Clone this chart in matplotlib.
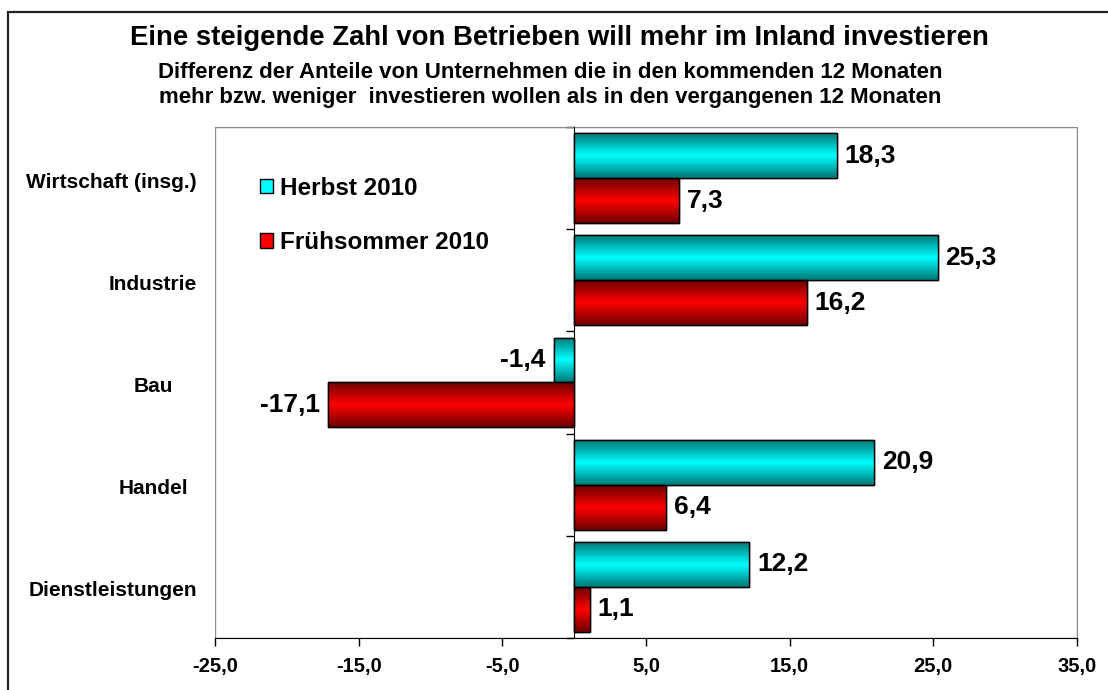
import numpy as np
import matplotlib
matplotlib.use("Agg")
import matplotlib.pyplot as plt
from matplotlib.colors import LinearSegmentedColormap
from matplotlib.patches import Rectangle

plt.rcParams['font.family'] = ['Liberation Sans', 'DejaVu Sans']

categories = ["Wirtschaft (insg.)", "Industrie", "Bau", "Handel", "Dienstleistungen"]
herbst = [18.3, 25.3, -1.4, 20.9, 12.2]
fruehsommer = [7.3, 16.2, -17.1, 6.4, 1.1]
series_names = ["Herbst 2010", "Frühsommer 2010"]
xticks = [-25, -15, -5, 5, 15, 25, 35]

fig = plt.figure(figsize=(11.08, 6.9), dpi=100)
ax = fig.add_axes([215 / 1108, 1 - 638 / 690, 862 / 1108, 511 / 690])

y = np.arange(len(categories))
h = 0.44
series = [
    (herbst, -h / 2, "#00FFFF", "#007878"),
    (fruehsommer, h / 2, "#FF0000", "#6E0000"),
]

containers = []
for (vals, off, bright, dark), name in zip(series, series_names):
    bars = ax.barh(y + off, vals, height=h, color=bright, edgecolor="black",
                   linewidth=1.0, label=name, zorder=3)
    containers.append(bars)
    # vertical shading like the Excel gradient fill
    cmap = LinearSegmentedColormap.from_list("g", [dark, bright, dark])
    grad = np.linspace(0, 1, 64).reshape(-1, 1)
    for b in bars:
        x0, y0 = b.get_x(), b.get_y()
        w, hh = b.get_width(), b.get_height()
        im = ax.imshow(grad, cmap=cmap, aspect="auto",
                       extent=(min(x0, x0 + w), max(x0, x0 + w), y0 + hh, y0),
                       zorder=3.5, interpolation="bicubic")
        im.set_clip_path(b)
        edge = Rectangle((x0, y0), w, hh, fill=False, edgecolor="black",
                         linewidth=1.0, zorder=4)
        ax.add_patch(edge)
    for b, v in zip(bars, vals):
        yc = b.get_y() + b.get_height() / 2
        txt = f"{v:.1f}".replace(".", ",")
        if v >= 0:
            ax.annotate(txt, (v, yc), xytext=(5.5, 0), textcoords="offset points",
                        ha="left", va="center", fontsize=19, fontweight="bold", zorder=5)
        else:
            ax.annotate(txt, (v, yc), xytext=(-6, 0), textcoords="offset points",
                        ha="right", va="center", fontsize=19, fontweight="bold", zorder=5)

ax.set_xlim(-25, 35)
ax.set_ylim(len(categories) - 0.5, -0.5)

# x axis
ax.set_xticks(xticks)
ax.set_xticklabels([f"{t:.1f}".replace(".", ",") for t in xticks],
                   fontsize=14.5, fontweight="bold")
ax.tick_params(axis="x", direction="out", length=6, width=1, pad=8)

# y axis at zero with ticks at category boundaries
ax.spines["left"].set_position(("data", 0))
ax.spines["left"].set_color("black")
ax.spines["left"].set_zorder(6)
ax.set_yticks(np.arange(len(categories) + 1) - 0.5)
ax.set_yticklabels([])
ax.tick_params(axis="y", direction="out", length=6, width=1)
for s in ["top", "right"]:
    ax.spines[s].set_color("#8c8c8c")
ax.spines["bottom"].set_color("black")
ax.add_patch(Rectangle((0, 0), 1, 1, transform=ax.transAxes, fill=False,
                       edgecolor="#8c8c8c", linewidth=1, zorder=0.5))

# category labels
trans = ax.get_yaxis_transform()
for i, cat in enumerate(categories):
    if len(cat) > 12:
        ax.text(-18 / 862, i + 0.04, cat, transform=trans, ha="right", va="center",
                fontsize=15, fontweight="bold")
    else:
        ax.text(-62 / 862, i + 0.04, cat, transform=trans, ha="center", va="center",
                fontsize=15, fontweight="bold")

leg = ax.legend(handles=containers, loc="upper left",
                bbox_to_anchor=(0.052, 0.903), frameon=False,
                prop={"size": 17.5, "weight": "bold"},
                handlelength=0.55, handleheight=0.55, handletextpad=0.3,
                labelspacing=1.3, borderpad=0, borderaxespad=0)

fig.text(0.505, 1 - 38 / 690, "Eine steigende Zahl von Betrieben will mehr im Inland investieren",
         ha="center", va="center", fontsize=19.8, fontweight="bold")
fig.text(0.497, 1 - 72 / 690, "Differenz der Anteile von Unternehmen die in den kommenden 12 Monaten",
         ha="center", va="center", fontsize=16, fontweight="bold")
fig.text(0.497, 1 - 97 / 690, "mehr bzw. weniger  investieren wollen als in den vergangenen 12 Monaten",
         ha="center", va="center", fontsize=16, fontweight="bold")

fig.patches.append(Rectangle((8 / 1108, -0.05), 1.2, 1 - 12 / 690 + 0.05,
                             transform=fig.transFigure, fill=False,
                             edgecolor="#222222", linewidth=1.6))

fig.savefig("out.png", dpi=100)
